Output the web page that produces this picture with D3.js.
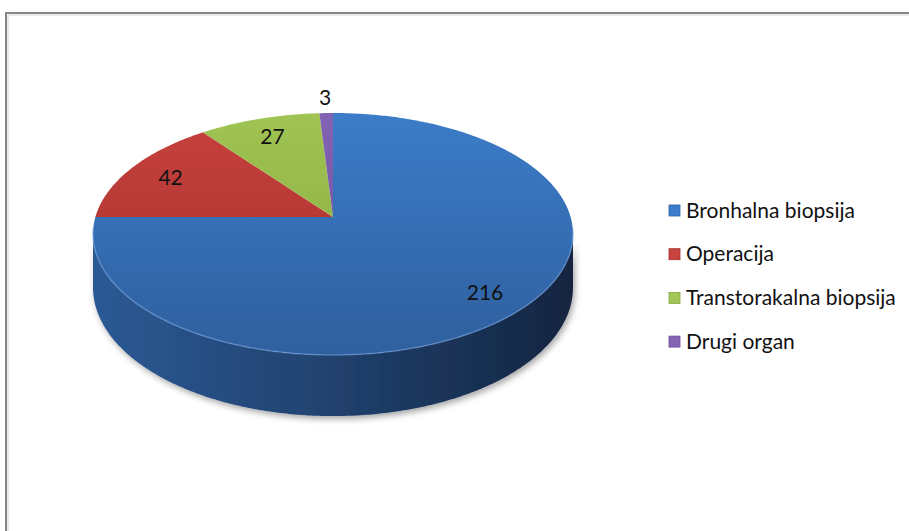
<!DOCTYPE html>
<html>
<head>
<meta charset="utf-8">
<script src="https://cdn.jsdelivr.net/npm/d3@7"></script>
<style>
  body { margin: 0; background: #fff; }
  svg { display: block; }
  text { font-family: Lato, "Open Sans", sans-serif; fill: #111; }
</style>
</head>
<body>
<div class="chart"></div>
<script>
// Data.
var categories = ["Bronhalna biopsija", "Operacija", "Transtorakalna biopsija", "Drugi organ"];
var values = [216, 42, 27, 3];

// Colours (top face light/dark, side).
var topLight = ["#3c7ecb", "#c9433f", "#a2c655", "#8564b5"];
var topDark = ["#2f5f9e", "#a22d2b", "#83a53b", "#6b4b98"];
var sideLeft = ["#2c5994", "#7e2220", "#66822c", "#533a78"];
var sideRight = ["#132440", "#3d0f0e", "#303e14", "#261a38"];

var width = 909;
var height = 531;

// Ellipse for the pie with a little perspective.
var cx = 333, cy = 217;
var A = 237.6, B = 118.6, p = 0.1405;
var depth = 52.5;

function proj(theta, r, drop) {
  var u = r * Math.sin(theta);
  var w = -r * Math.cos(theta);
  var D = 1 - p * w;
  return [cx + A * u / D, cy + B * w / D + (drop || 0) / D];
}

function rim(a, b, drop) {
  var n = Math.max(2, Math.ceil((b - a) / 0.01));
  return d3.range(n + 1).map(function(i) {
    return proj(a + (b - a) * i / n, 1, drop);
  });
}

var line = d3.line();

var svg = d3.select(".chart")
  .append("svg")
  .attr("width", width)
  .attr("height", height);

var defs = svg.append("defs");

var shadow = defs.append("filter")
  .attr("id", "shadow")
  .attr("x", "-10%").attr("y", "-10%")
  .attr("width", "130%").attr("height", "140%");
shadow.append("feDropShadow")
  .attr("dx", 2).attr("dy", 3)
  .attr("stdDeviation", 3)
  .attr("flood-color", "#000")
  .attr("flood-opacity", 0.35);

categories.forEach(function(c, i) {
  var g = defs.append("linearGradient")
    .attr("id", "top" + i)
    .attr("gradientUnits", "userSpaceOnUse")
    .attr("x1", 0).attr("y1", cy - B).attr("x2", 0).attr("y2", cy + 140);
  g.append("stop").attr("offset", 0).attr("stop-color", topLight[i]);
  g.append("stop").attr("offset", 1).attr("stop-color", topDark[i]);

  var s = defs.append("linearGradient")
    .attr("id", "side" + i)
    .attr("gradientUnits", "userSpaceOnUse")
    .attr("x1", cx - 240).attr("y1", 0).attr("x2", cx + 240).attr("y2", 0);
  s.append("stop").attr("offset", 0).attr("stop-color", sideLeft[i]);
  s.append("stop").attr("offset", 0.45).attr("stop-color", d3.interpolateRgb(sideLeft[i], sideRight[i])(0.4));
  s.append("stop").attr("offset", 1).attr("stop-color", sideRight[i]);
});

// Chart frame
svg.append("path")
  .attr("d", "M6," + height + "V13H" + width)
  .attr("fill", "none")
  .attr("stroke", "#878787")
  .attr("stroke-width", 2);
svg.append("path")
  .attr("d", "M8," + height + "V15H" + width)
  .attr("fill", "none")
  .attr("stroke", "#d4d4d4")
  .attr("stroke-width", 1);

var arcs = d3.pie().sort(null).value(function(d) { return d; })(values);

// Visible front side between the two silhouette points.
var th1 = Math.acos(-p);
var th2 = 2 * Math.PI - th1;

var sideG = svg.append("g").attr("filter", "url(#shadow)");
arcs.forEach(function(a) {
  var s = Math.max(a.startAngle, th1);
  var e = Math.min(a.endAngle, th2);
  if (s >= e) return;
  var pts = rim(s, e, 0).concat(rim(s, e, depth).reverse());
  sideG.append("path")
    .attr("d", line(pts) + "Z")
    .attr("fill", "url(#side" + a.index + ")");
});

// Top faces
var topG = svg.append("g");
arcs.forEach(function(a) {
  var pts = [proj(0, 0)].concat(rim(a.startAngle, a.endAngle, 0));
  topG.append("path")
    .attr("d", line(pts) + "Z")
    .attr("fill", "url(#top" + a.index + ")");
});

// light bevel along the front edge
topG.append("path")
  .attr("d", line(rim(th1 - 0.05, th2 + 0.05, 0)))
  .attr("fill", "none")
  .attr("stroke", "#6f9fdc")
  .attr("stroke-opacity", 0.55)
  .attr("stroke-width", 1.5);

// Data labels
svg.append("g").selectAll("text")
  .data(arcs)
  .join("text")
  .attr("transform", function(d) {
    var mid = (d.startAngle + d.endAngle) / 2;
    var r = (d.endAngle - d.startAngle) < 0.15 ? 1.18 : 0.8;
    var q = proj(mid, r);
    if (d.index === 0) q = proj(mid, 0.83);
    return "translate(" + q[0] + "," + q[1] + ")";
  })
  .attr("text-anchor", "middle")
  .attr("dy", "0.36em")
  .style("font-size", "21px")
  .text(function(d) { return d.data; });

// Legend
var legend = svg.append("g")
  .selectAll("g")
  .data(categories)
  .join("g")
  .attr("transform", function(d, i) { return "translate(669," + (210 + i * 43.7) + ")"; });

legend.append("rect")
  .attr("x", 0).attr("y", -5)
  .attr("width", 11).attr("height", 11)
  .attr("fill", function(d, i) { return "url(#top" + i + ")"; })
  .attr("stroke", function(d, i) { return topDark[i]; })
  .attr("stroke-width", 0.8);
legend.append("rect")
  .attr("x", 1).attr("y", -4)
  .attr("width", 9).attr("height", 9)
  .attr("fill", function(d, i) { return topLight[i]; });

legend.append("text")
  .attr("x", 17)
  .attr("dy", "0.36em")
  .style("font-size", "21px")
  .text(function(d) { return d; });
</script>
</body>
</html>
